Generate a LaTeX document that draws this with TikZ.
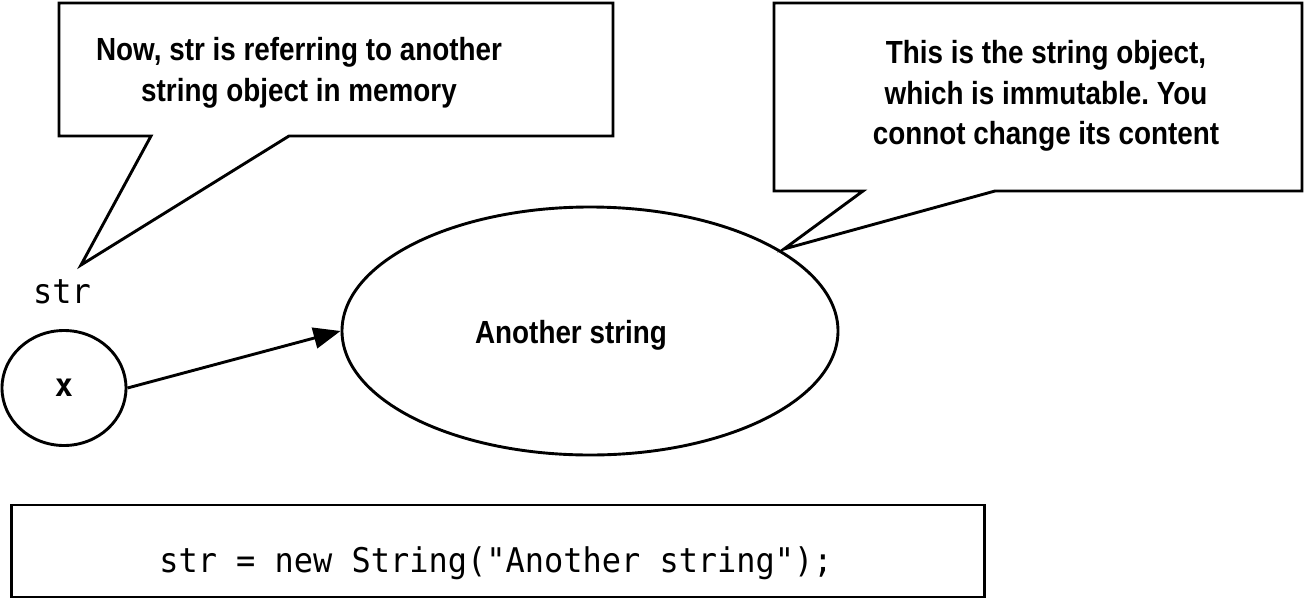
\documentclass[tikz,border=0pt]{standalone}
\usepackage{fontspec}
\setmainfont{Liberation Sans}
\setmonofont[FakeStretch=0.94]{DejaVu Sans Mono}
\newfontfamily\notefont[FakeStretch=0.87]{Liberation Sans}
\usetikzlibrary{arrows.meta}
\usetikzlibrary{shapes.geometric}
\frenchspacing

\begin{document}
\begin{tikzpicture}[
	x=1pt,y=-1pt,
	line width=2.9pt,
	note/.style={
		inner sep=0pt,
		align=center,
		font=\notefont\bfseries\fontsize{32}{40.5}\selectfont,
	},
	code/.style={
		inner sep=0pt,
		font=\ttfamily\fontsize{34}{40}\selectfont,
	},
	bubble/.style={draw,line join=miter,fill=white},
	blob/.style={draw,ellipse,inner sep=0pt},
	every edge/.style={draw,-{Triangle[length=27pt,width=21pt]}},
]
\useasboundingbox (0,0) rectangle (1304,600);
% speech bubbles
\draw [bubble] (59,3) -- (613,3) -- (613,136) -- (289,136) -- (81,265)
	-- (151,136) -- (59,136) -- cycle;
\draw [bubble] (774,3) -- (1302,3) -- (1302,191) -- (995,191) -- (784,249)
	-- (863,191) -- (774,191) -- cycle;
\node [note,anchor=north] (refnote) at (299,36) {
	Now, str is referring to another\\string object in memory
};
\node [note,anchor=north] (immnote) at (1046,39) {
	This is the string object,\\which is immutable. You\\connot change its content
};
% variable and object
\node [code,anchor=base] (strlabel) at (62,303) {str};
\node [blob,minimum width=124pt,minimum height=115pt,
	font=\ttfamily\bfseries\fontsize{32}{38}\selectfont] (xvar) at (64,388) {x};
\node [blob,minimum width=496pt,minimum height=248pt] (obj) at (590,331) {};
\node [note,anchor=base] (objtext) at (571,343) {Another string};
\path (xvar.east) edge (obj.west);
% statement
\node [draw,minimum width=973pt,minimum height=92pt] (codebox) at (498,551) {};
\node [code,anchor=base] (stmt) at (496,572) {str = new String("Another string");};
\end{tikzpicture}
\end{document}
